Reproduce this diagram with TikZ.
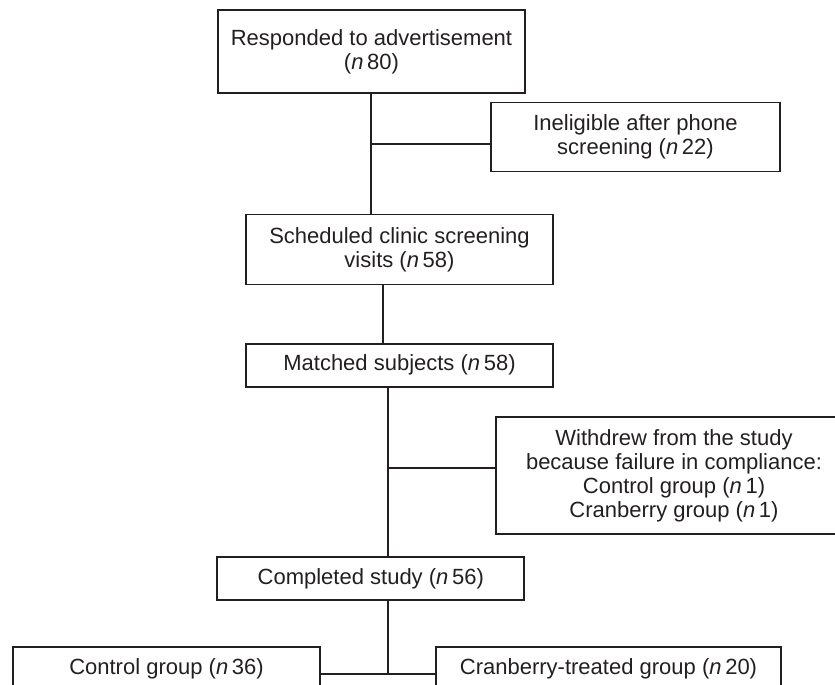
\documentclass[tikz,border=0pt]{standalone}
\usepackage{fontspec}
\setmainfont{Liberation Sans}
\usepackage{xcolor}
\definecolor{ink}{RGB}{35,31,32}
\tikzset{
  box/.style={draw=ink, line width=1.8pt, text=ink, align=center, inner sep=0pt},
  link/.style={draw=ink, line width=1.5pt}
}
\newcommand{\nval}[1]{(\textit{n}\,#1)}

\begin{document}
\begin{tikzpicture}[x=1pt,y=-1pt,font=\fontsize{22}{24}\selectfont]
  \useasboundingbox (0,0) rectangle (835,685);
  \clip (0,0) rectangle (835,685);
  % boxes
  \node[box, minimum width=307, minimum height=83] (resp) at (371.5,51.5) {Responded to advertisement\\\nval{80}};
  \node[box, minimum width=289, minimum height=69] (inel) at (635.5,137) {Ineligible after phone\\screening \nval{22}};
  \node[box, minimum width=307, minimum height=70] (sched) at (399.5,249.5) {Scheduled clinic screening\\visits \nval{58}};
  \node[box, minimum width=307, minimum height=43] (match) at (399.5,365.3) {Matched subjects \nval{58}};
  \node[box, minimum width=356, minimum height=117] (wd) at (674,475.4) {Withdrew from the study\\because failure in compliance:\\Control group \nval{1}\\Cranberry group \nval{1}};
  \node[box, minimum width=307, minimum height=43] (done) at (370.8,578.5) {Completed study \nval{56}};
  \node[box, minimum width=307, minimum height=43] (ctrl) at (166.5,668.5) {Control group \nval{36}};
  \node[box, minimum width=345, minimum height=43] (cran) at (608.5,668.5) {Cranberry-treated group \nval{20}};
  % connectors
  \coordinate (j1) at (371,144);
  \draw[link] (j1 |- resp.south) -- (j1 |- sched.north);
  \draw[link] (j1) -- (j1 -| inel.west);
  \coordinate (j2) at (383,300);
  \draw[link] (j2 |- sched.south) -- (j2 |- match.north);
  \coordinate (j3) at (388,468);
  \draw[link] (j3 |- match.south) -- (j3 |- done.north);
  \draw[link] (j3) -- (j3 -| wd.west);
  \coordinate (j4) at (388,674);
  \draw[link] (j4 |- done.south) -- (j4);
  \draw[link] (j4 -| ctrl.east) -- (j4 -| cran.west);
\end{tikzpicture}
\end{document}
